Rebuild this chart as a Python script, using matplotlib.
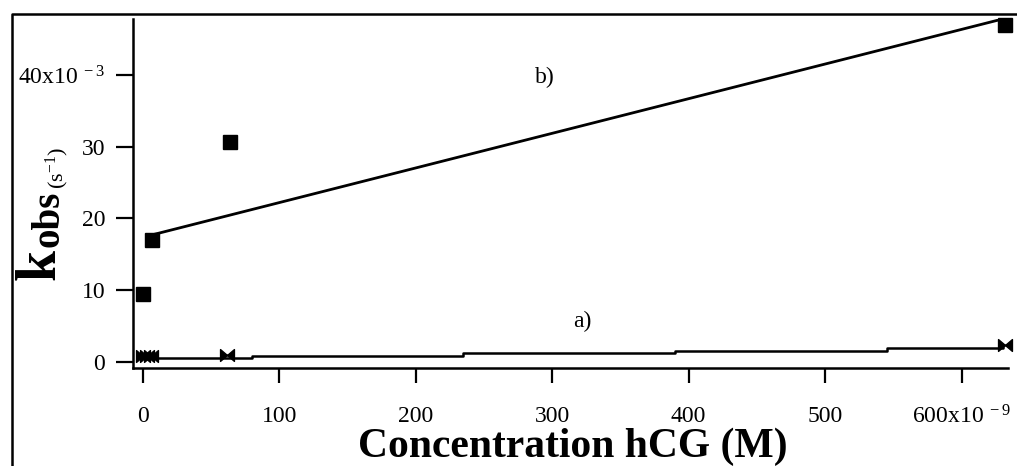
import matplotlib
matplotlib.use("Agg")
import matplotlib.pyplot as plt
from matplotlib.path import Path
from matplotlib.lines import Line2D
import numpy as np

plt.rcParams['font.family'] = ['Liberation Serif', 'DejaVu Serif']
plt.rcParams['mathtext.fontset'] = 'custom'
plt.rcParams['mathtext.rm'] = 'Liberation Serif'
plt.rcParams['mathtext.it'] = 'Liberation Serif:italic'
plt.rcParams['mathtext.bf'] = 'Liberation Serif:bold'

# ---- data (x in 1e-9 M, y in 1e-3 s^-1) ----
b_x = [0, 6.6, 64, 632]
b_y = [9.5, 17.0, 30.7, 47.0]
b_fit_x = [6.6, 630]
b_fit_y = [17.7, 47.8]

a_x = [0, 3, 6, 62, 632]
a_y = [0.9, 0.9, 0.9, 1.0, 2.4]
a_step_x = [6, 80, 235, 390, 545, 630]
a_step_y = [0.55, 0.85, 1.2, 1.55, 1.9, 2.2]

x_ticks = [0, 100, 200, 300, 400, 500, 600]
x_ticklabels = ['0', '100', '200', '300', '400', '500', r'600x10$^{\ -9}$']
y_ticks = [0, 10, 20, 30, 40]
y_ticklabels = ['0', '10', '20', '30', r'40x10$^{\ -3}$']

W, H = 1017, 466
fig = plt.figure(figsize=(W / 100, H / 100), dpi=100)
ax = fig.add_axes([133 / W, 1 - 368 / H, (1008 - 133) / W, (368 - 19) / H])

# bowtie marker
bowtie = Path([(-1, -0.85), (-1, 0.85), (1, -0.85), (1, 0.85), (-1, -0.85)],
              [Path.MOVETO, Path.LINETO, Path.LINETO, Path.LINETO, Path.CLOSEPOLY])

ax.plot(b_fit_x, b_fit_y, color='black', lw=2.0, solid_capstyle='butt')
ax.plot(b_x, b_y, ls='none', marker='s', ms=9.5, color='black', clip_on=False)
ax.plot(a_step_x, a_step_y, color='black', lw=1.8, drawstyle='steps-post')
ax.plot(a_x, a_y, ls='none', marker=bowtie, ms=10, color='black', clip_on=False)

ax.set_xlim(-7.1, 634)
ax.set_ylim(-0.84, 47.8)

for s in ['top', 'right']:
    ax.spines[s].set_visible(False)
for s in ['left', 'bottom']:
    ax.spines[s].set_linewidth(1.8)

ax.set_xticks(x_ticks)
ax.set_xticklabels(x_ticklabels)
ax.set_yticks(y_ticks)
ax.set_yticklabels(y_ticklabels)
ax.tick_params(axis='x', direction='out', length=11, width=1.6, pad=16, labelsize=17)
ax.tick_params(axis='y', direction='out', length=12, width=1.6, pad=8, labelsize=17)

ax.text(295, 39.7, 'b)', fontsize=17, ha='center', va='center')
ax.text(322, 5.6, 'a)', fontsize=17, ha='center', va='center')

# x label
fig.text(573 / W, 1 - 457 / H, 'Concentration hCG (M)', fontsize=30, fontweight='bold',
         ha='center', va='baseline')

# y label pieces (rotated)
fig.text(55 / W, 1 - 280 / H, 'k', fontsize=40, fontweight='bold', rotation=90,
         rotation_mode='anchor', ha='left', va='baseline')
fig.text(58 / W, 1 - 247 / H, 'obs', fontsize=28, fontweight='bold', rotation=90,
         rotation_mode='anchor', ha='left', va='baseline')
fig.text(63 / W, 1 - 189 / H, r'(s$^{\mathregular{-1}}$)', fontsize=16, rotation=90,
         rotation_mode='anchor', ha='left', va='baseline')

# outer frame (top and left visible)
fig.add_artist(Line2D([12 / W, 12 / W, 1.01], [-0.01, 1 - 14 / H, 1 - 14 / H],
                      transform=fig.transFigure, color='black', lw=1.8))

fig.savefig('out.png', dpi=100)
